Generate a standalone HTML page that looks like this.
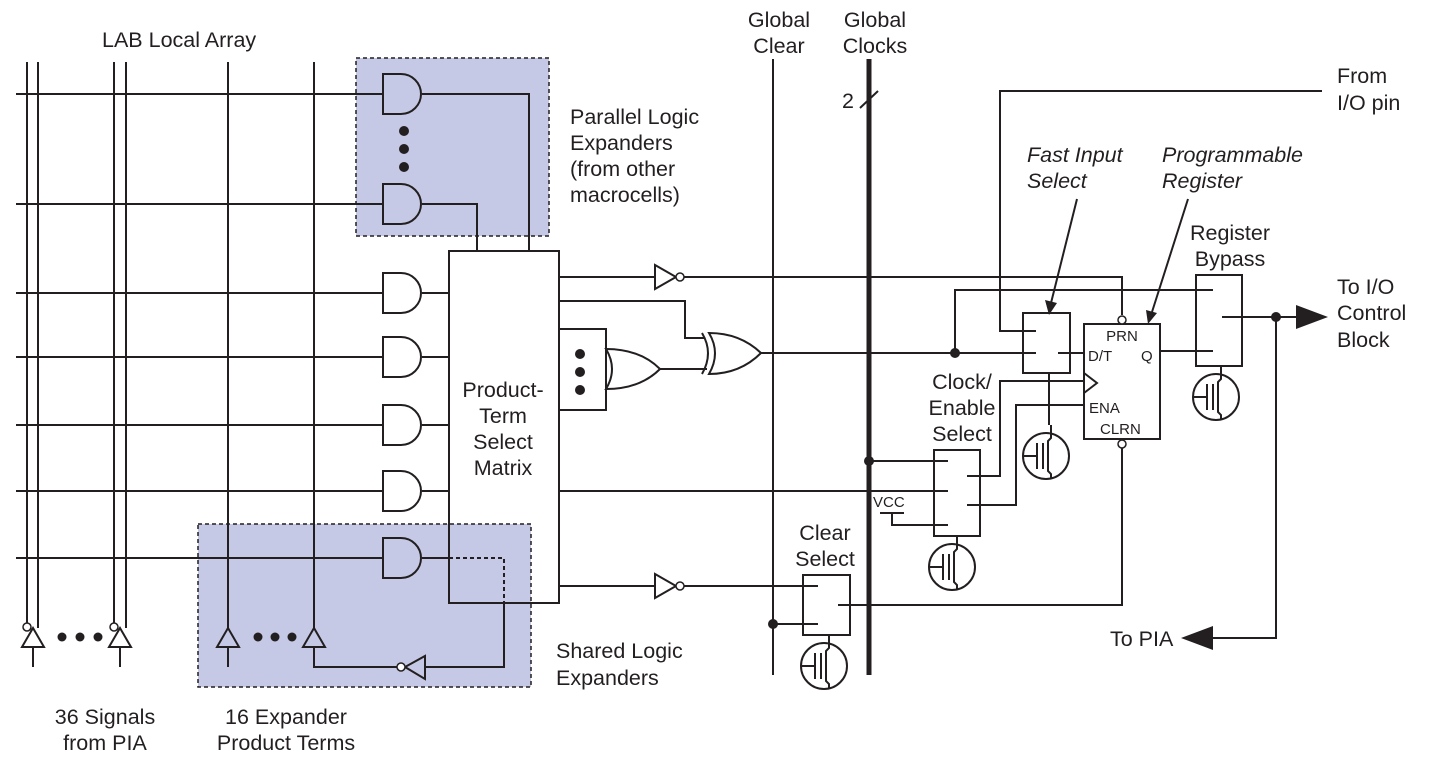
<!DOCTYPE html>
<html><head><meta charset="utf-8"><style>
html,body{margin:0;padding:0;background:#fff}
svg{display:block}
text{font-family:"Liberation Sans",sans-serif;font-size:21.5px;fill:#231f20}
.s{font-size:15px}
</style></head><body>
<svg width="1441" height="765" viewBox="0 0 1441 765" xmlns="http://www.w3.org/2000/svg">
<defs>
<g id="and"><path d="M0,-20 H18 A20,20 0 0 1 18,20 H0 Z" fill="none" stroke="#231f20" stroke-width="2"/></g>
<g id="andw"><path d="M0,-20 H18 A20,20 0 0 1 18,20 H0 Z" fill="#fff" stroke="#231f20" stroke-width="2"/></g>
<g id="tr" fill="none" stroke="#231f20" stroke-width="2">
<circle r="23" fill="#fff"/>
<path d="M5,-31 V-18 L2,-15 V15 L5,18 V23"/>
<path d="M-3,-13 V13 M-9,-13 V13 M-23,0 H-9"/>
</g>
</defs>
<rect x="356" y="58" width="193" height="178" fill="#c5c9e6" stroke="#231f20" stroke-width="1.5" stroke-dasharray="4,3"/>
<rect x="198" y="524" width="333" height="163" fill="#c5c9e6" stroke="#231f20" stroke-width="1.5" stroke-dasharray="4,3"/>
<g fill="none" stroke="#231f20" stroke-width="2">
<path d="M27,62 V623 M38,62 V628 M114,62 V623 M126,62 V628 M228,62 V628 M314,62 V628"/>
<path d="M16,94 H383 M16,204 H383 M16,293 H383 M16,357 H383 M16,425 H383 M16,491 H383 M16,558 H383"/>
<path d="M33,628 L22,647 H44 Z M33,647 V667 M120,628 L109,647 H131 Z M120,647 V667 M228,628 L217,647 H239 Z M228,647 V667 M314,628 L303,647 H325 Z"/>
<path d="M314,647 V667 H398 M425,667 H504 V603"/>
<path d="M425,656 V679 L405,667 Z"/>
</g>
<circle cx="27" cy="627" r="4" fill="#fff" stroke="#231f20" stroke-width="1.5"/>
<circle cx="114" cy="627" r="4" fill="#fff" stroke="#231f20" stroke-width="1.5"/>
<circle cx="401" cy="667" r="4" fill="#fff" stroke="#231f20" stroke-width="1.5"/>
<g fill="#231f20">
<circle cx="62" cy="637" r="4.5"/><circle cx="80" cy="637" r="4.5"/><circle cx="98" cy="637" r="4.5"/>
<circle cx="258" cy="637" r="4.5"/><circle cx="275" cy="637" r="4.5"/><circle cx="292" cy="637" r="4.5"/>
<circle cx="404" cy="131" r="5"/><circle cx="404" cy="149" r="5"/><circle cx="404" cy="167" r="5"/>
<circle cx="580" cy="354" r="5"/><circle cx="580" cy="372" r="5"/><circle cx="580" cy="390" r="5"/>
</g>
<use href="#and" x="383" y="94"/><use href="#and" x="383" y="204"/>
<use href="#andw" x="383" y="293"/><use href="#andw" x="383" y="357"/><use href="#andw" x="383" y="425"/><use href="#andw" x="383" y="491"/>
<use href="#and" x="383" y="558"/>
<g fill="none" stroke="#231f20" stroke-width="2">
<path d="M422,94 H529 V251 M422,204 H477 V251"/>
<path d="M422,293 H449 M422,357 H449 M422,425 H449 M422,491 H449 M422,558 H449"/>
<rect x="449" y="251" width="110" height="352"/>
</g>
<path d="M449,558 H504 V603" fill="none" stroke="#231f20" stroke-width="2" stroke-dasharray="4,3"/>
<text x="503" y="397" text-anchor="middle">Product-</text>
<text x="503" y="423" text-anchor="middle">Term</text>
<text x="503" y="449" text-anchor="middle">Select</text>
<text x="503" y="475" text-anchor="middle">Matrix</text>
<g fill="none" stroke="#231f20" stroke-width="2">
<path d="M559,277 H655 M683,277 H1122 V315"/>
<path d="M655,265 V289 L676,277 Z"/>
<path d="M559,301 H685 V338 H705"/>
<path d="M559,329 H606 V410 H559"/>
<path d="M606,349 Q640,349 660,369 Q640,389 606,389 Q618,369 606,349 Z"/>
<path d="M660,369 H707"/>
<path d="M709,333 Q740,333 761,353 Q740,374 709,374 Q721,353 709,333 Z"/>
<path d="M702,333 Q714,353 702,374"/>
<path d="M761,353 H1036"/>
<path d="M955,353 V290 H1213"/>
<path d="M559,491 H948"/>
<path d="M559,586 H655 M683,586 H818"/>
<path d="M655,574 V598 L676,586 Z"/>
<path d="M773,59 V675"/>
<path d="M773,624 H818"/>
<path d="M860,108 L878,91"/>
<path d="M1322,91 H1000 V331 H1036"/>
<rect x="1023" y="313" width="47" height="60"/>
<path d="M1058,353 H1084"/>
<path d="M1049,373 V425"/>
<rect x="1084" y="324" width="76" height="115"/>
<path d="M1084,373 L1097,383 L1084,393"/>
<path d="M1122,448 V605 H838"/>
<path d="M1160,351 H1213"/>
<rect x="1196" y="275" width="46" height="91"/>
<path d="M1222,317 H1298 M1276,317 V638 H1213"/>
<path d="M1221,366 V370"/>
<rect x="934" y="450" width="46" height="86"/>
<path d="M869,461 H948 M880,513 H904 M892,513 V525 H948"/>
<path d="M967,476 H1000 V381 H1084 M967,505 H1016 V405 H1084"/>
<rect x="803" y="575" width="47" height="60"/>
<path d="M1077,199 L1051,303 M1188,199 L1152,312"/>
</g>
<line x1="869" y1="59" x2="869" y2="675" stroke="#231f20" stroke-width="5"/>
<g fill="#231f20">
<circle cx="955" cy="353" r="5"/><circle cx="869" cy="461" r="5"/><circle cx="773" cy="624" r="5"/><circle cx="1276" cy="317" r="5"/>
<path d="M1296,305 L1328,317 L1296,329 Z"/>
<path d="M1213,626 L1181,638 L1213,650 Z"/>
<path d="M1045,300 L1049,315 L1057,303 Z"/>
<path d="M1146,310 L1148,324 L1157,313 Z"/>
</g>
<g fill="#fff" stroke="#231f20" stroke-width="1.5">
<circle cx="680" cy="277" r="4"/><circle cx="680" cy="586" r="4"/>
<circle cx="1122" cy="320" r="4"/><circle cx="1122" cy="444" r="4"/>
</g>
<use href="#tr" x="1216" y="397"/>
<use href="#tr" x="1046" y="456"/>
<use href="#tr" x="952" y="567"/>
<use href="#tr" x="824" y="666"/>
<text class="s" x="1122" y="341" text-anchor="middle">PRN</text>
<text class="s" x="1088" y="361">D/T</text>
<text class="s" x="1141" y="361">Q</text>
<text class="s" x="1089" y="413">ENA</text>
<text class="s" x="1100" y="434">CLRN</text>
<text class="s" x="873" y="507">VCC</text>
<text x="102" y="47">LAB Local Array</text>
<text x="570" y="124">Parallel Logic</text>
<text x="570" y="150">Expanders</text>
<text x="570" y="176">(from other</text>
<text x="570" y="202">macrocells)</text>
<text x="556" y="658">Shared Logic</text>
<text x="556" y="685">Expanders</text>
<text x="105" y="724" text-anchor="middle">36 Signals</text>
<text x="105" y="750" text-anchor="middle">from PIA</text>
<text x="286" y="724" text-anchor="middle">16 Expander</text>
<text x="286" y="750" text-anchor="middle">Product Terms</text>
<text x="779" y="27" text-anchor="middle">Global</text>
<text x="779" y="53" text-anchor="middle">Clear</text>
<text x="875" y="27" text-anchor="middle">Global</text>
<text x="875" y="53" text-anchor="middle">Clocks</text>
<text x="842" y="108">2</text>
<text x="1337" y="83">From</text>
<text x="1337" y="110">I/O pin</text>
<text x="1027" y="162" font-style="italic">Fast Input</text>
<text x="1027" y="188" font-style="italic">Select</text>
<text x="1162" y="162" font-style="italic">Programmable</text>
<text x="1162" y="188" font-style="italic">Register</text>
<text x="1230" y="240" text-anchor="middle">Register</text>
<text x="1230" y="266" text-anchor="middle">Bypass</text>
<text x="1337" y="294">To I/O</text>
<text x="1337" y="320">Control</text>
<text x="1337" y="347">Block</text>
<text x="962" y="389" text-anchor="middle">Clock/</text>
<text x="962" y="415" text-anchor="middle">Enable</text>
<text x="962" y="441" text-anchor="middle">Select</text>
<text x="825" y="540" text-anchor="middle">Clear</text>
<text x="825" y="566" text-anchor="middle">Select</text>
<text x="1110" y="646">To PIA</text>
</svg>
</body></html>
